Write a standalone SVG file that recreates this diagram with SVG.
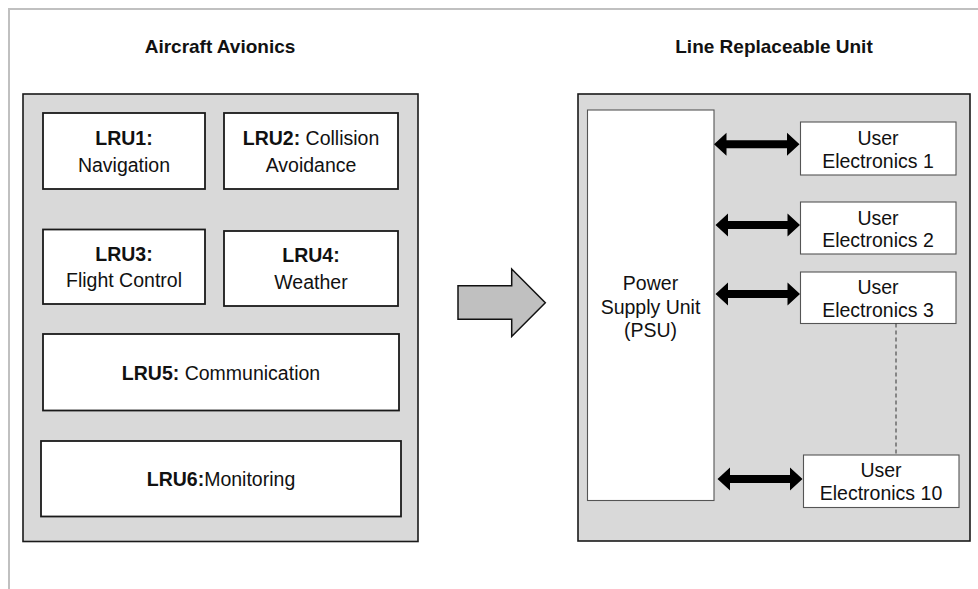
<svg xmlns="http://www.w3.org/2000/svg" width="978" height="589" viewBox="0 0 978 589">
  <style>
    .frame { stroke: #c0c0c0; stroke-width: 2; fill: none; }
    .panel { fill: #d9d9d9; stroke: #1a1a1a; stroke-width: 1.6; }
    .lru { fill: #ffffff; stroke: #1a1a1a; stroke-width: 1.8; }
    .unit { fill: #ffffff; stroke: #555555; stroke-width: 1.1; }
    .title { font-family: "Liberation Sans", Arial, sans-serif; font-size: 19px; font-weight: bold; fill: #111111; text-anchor: middle; }
    .lbl { font-family: "Liberation Sans", Arial, sans-serif; font-size: 19.5px; fill: #111111; text-anchor: middle; }
    .b { font-weight: bold; }
    .link { fill: #000000; stroke: none; }
    .dash { stroke: #333333; stroke-width: 1; stroke-dasharray: 4 3; fill: none; }
    .flow { fill: #c0c0c0; stroke: #111111; stroke-width: 1.5; stroke-linejoin: miter; }
  </style>

  <!-- page border -->
  <path class="frame" d="M9,589 V9 H978"/>

  <!-- section titles -->
  <text class="title" x="220" y="53">Aircraft Avionics</text>
  <text class="title" x="774" y="53">Line Replaceable Unit</text>

  <!-- avionics bay -->
  <g id="avionics">
    <rect class="panel" x="23" y="94" width="395" height="447.5"/>
  </g>
  <g id="lru1">
    <rect class="lru" x="43" y="113" width="162" height="76"/>
    <text class="lbl" x="124" y="145"><tspan class="b">LRU1:</tspan></text>
    <text class="lbl" x="124" y="171.5">Navigation</text>
  </g>
  <g id="lru2">
    <rect class="lru" x="224" y="113" width="174" height="76"/>
    <text class="lbl" x="311" y="145"><tspan class="b">LRU2:</tspan> Collision</text>
    <text class="lbl" x="311" y="171.5">Avoidance</text>
  </g>
  <g id="lru3">
    <rect class="lru" x="43" y="229.5" width="162" height="74.5"/>
    <text class="lbl" x="124" y="260.5"><tspan class="b">LRU3:</tspan></text>
    <text class="lbl" x="124" y="287">Flight Control</text>
  </g>
  <g id="lru4">
    <rect class="lru" x="224" y="231" width="174" height="75"/>
    <text class="lbl" x="311" y="262"><tspan class="b">LRU4:</tspan></text>
    <text class="lbl" x="311" y="288.5">Weather</text>
  </g>
  <g id="lru5">
    <rect class="lru" x="43" y="334" width="356" height="76.5"/>
    <text class="lbl" x="221" y="380"><tspan class="b">LRU5:</tspan> Communication</text>
  </g>
  <g id="lru6">
    <rect class="lru" x="41" y="441" width="360" height="75.5"/>
    <text class="lbl" x="221" y="486"><tspan class="b">LRU6:</tspan>Monitoring</text>
  </g>

  <!-- transition arrow -->
  <g id="transition">
    <path class="flow" d="M458,285.7 H511.7 V269 L545.3,302.7 L511.7,336.5 V319.3 H458 Z"/>
  </g>

  <!-- line replaceable unit -->
  <g id="lru-unit">
    <rect class="panel" x="578" y="94" width="392" height="447"/>
  </g>
  <g id="psu">
    <rect class="unit" x="587.5" y="110" width="126.5" height="390.5"/>
    <text class="lbl" x="650.5" y="290">Power</text>
    <text class="lbl" x="650.5" y="313.5">Supply Unit</text>
    <text class="lbl" x="650.5" y="337">(PSU)</text>
  </g>
  <g id="ue1">
    <rect class="unit" x="800.5" y="122" width="155.5" height="53"/>
    <text class="lbl" x="878" y="145">User</text>
    <text class="lbl" x="878" y="167.5">Electronics 1</text>
  </g>
  <g id="ue2">
    <rect class="unit" x="800.5" y="202" width="155.5" height="52"/>
    <text class="lbl" x="878" y="224.5">User</text>
    <text class="lbl" x="878" y="247">Electronics 2</text>
  </g>
  <g id="ue3">
    <rect class="unit" x="800.5" y="272" width="155.5" height="51.5"/>
    <text class="lbl" x="878" y="294">User</text>
    <text class="lbl" x="878" y="316.5">Electronics 3</text>
  </g>
  <g id="ue10">
    <rect class="unit" x="803.5" y="455" width="155.5" height="52.5"/>
    <text class="lbl" x="881" y="477">User</text>
    <text class="lbl" x="881" y="500">Electronics 10</text>
  </g>

  <!-- power links and the elided units -->
  <g id="connectors">
    <path class="link" d="M714,144.3 L726.5,132.8 V140.3 H787 V132.8 L799.5,144.3 L787,155.8 V148.3 H726.5 V155.8 Z"/>
    <path class="link" d="M715.5,225 L728,213.5 V221 H787.5 V213.5 L800,225 L787.5,236.5 V229 H728 V236.5 Z"/>
    <path class="link" d="M715.5,294 L728,282.5 V290 H787.5 V282.5 L800,294 L787.5,305.5 V298 H728 V305.5 Z"/>
    <path class="link" d="M717.5,479 L730,467.5 V475 H790 V467.5 L802.5,479 L790,490.5 V483 H730 V490.5 Z"/>
    <line class="dash" x1="896" y1="323.5" x2="896" y2="455"/>
  </g>
</svg>
